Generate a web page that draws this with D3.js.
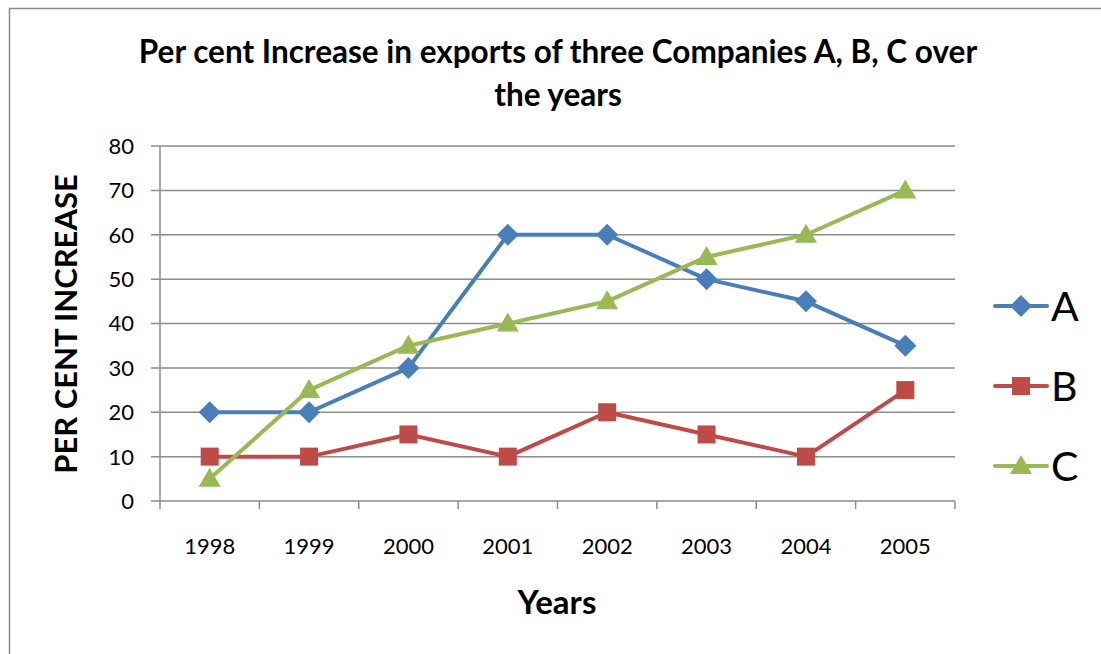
<!DOCTYPE html>
<html lang="en">
    <head>
        <meta charset="utf-8">
        <title>Per cent Increase in exports</title>
        <script src="https://d3js.org/d3.v7.min.js"></script>
        <style type="text/css">
            body { margin: 0; background: #fff; }
            text { font-family: Lato, "Open Sans", sans-serif; fill: #000; }
        </style>
    </head>
    <body>
        <script>
            // data
            var years = ["1998", "1999", "2000", "2001", "2002", "2003", "2004", "2005"];
            var seriesA = [20, 20, 30, 60, 60, 50, 45, 35];
            var seriesB = [10, 10, 15, 10, 20, 15, 10, 25];
            var seriesC = [5, 25, 35, 40, 45, 55, 60, 70];
            var seriesNames = ["A", "B", "C"];
            var yTicks = [0, 10, 20, 30, 40, 50, 60, 70, 80];

            var series = [
                { name: "A", values: seriesA, color: "#4a7ebb", symbol: "diamond" },
                { name: "B", values: seriesB, color: "#be4b48", symbol: "square" },
                { name: "C", values: seriesC, color: "#98b954", symbol: "triangle" }
            ];

            // configuration code
            var outerWidth = 1101;
            var outerHeight = 654;
            var plot = { left: 160, right: 955, top: 146, bottom: 501 };

            var svg = d3.select("body")
                        .append("svg")
                        .attr("width", outerWidth)
                        .attr("height", outerHeight);

            // chart border
            svg.append("rect")
                .attr("x", 9.5).attr("y", 8.5)
                .attr("width", 1120).attr("height", 700)
                .attr("fill", "none")
                .attr("stroke", "#8a8a8a")
                .attr("stroke-width", 1.5);

            var xScale = d3.scaleBand().domain(years).range([plot.left, plot.right]).padding(0);
            var yScale = d3.scaleLinear().domain([0, 80]).range([plot.bottom, plot.top]);

            // gridlines
            svg.append("g").selectAll("line").data(yTicks).enter().append("line")
                .attr("x1", plot.left - 9).attr("x2", plot.right)
                .attr("y1", function (d) { return yScale(d); })
                .attr("y2", function (d) { return yScale(d); })
                .attr("stroke", "#8c8c8c")
                .attr("stroke-width", 1.5);

            // y axis line
            svg.append("line")
                .attr("x1", plot.left).attr("x2", plot.left)
                .attr("y1", plot.top).attr("y2", plot.bottom)
                .attr("stroke", "#8c8c8c").attr("stroke-width", 1.5);

            // x axis ticks at band boundaries
            var boundaries = years.map(function (d) { return xScale(d); }).concat([plot.right]);
            svg.append("g").selectAll("line").data(boundaries).enter().append("line")
                .attr("x1", function (d) { return d; }).attr("x2", function (d) { return d; })
                .attr("y1", plot.bottom).attr("y2", plot.bottom + 8)
                .attr("stroke", "#8c8c8c").attr("stroke-width", 1.5);

            // y tick labels
            svg.append("g").selectAll("text").data(yTicks).enter().append("text")
                .attr("x", 134)
                .attr("y", function (d) { return yScale(d); })
                .attr("dy", "0.36em")
                .attr("text-anchor", "end")
                .style("font-size", "22px")
                .text(function (d) { return d; });

            // x tick labels
            svg.append("g").selectAll("text").data(years).enter().append("text")
                .attr("x", function (d) { return xScale(d) + xScale.bandwidth() / 2; })
                .attr("y", 554)
                .attr("text-anchor", "middle")
                .style("font-size", "22px")
                .text(function (d) { return d; });

            // titles
            var title = svg.append("text")
                .attr("text-anchor", "middle")
                .style("font-size", "31.5px").style("font-weight", "bold");
            title.append("tspan").attr("x", 558).attr("y", 63)
                .text("Per cent Increase in exports of three Companies A, B, C over");
            title.append("tspan").attr("x", 558).attr("y", 106).text("the years");

            svg.append("text")
                .attr("transform", "translate(77,324) rotate(-90)")
                .attr("text-anchor", "middle")
                .style("font-size", "31px").style("font-weight", "bold")
                .text("PER CENT INCREASE");

            svg.append("text")
                .attr("x", 557).attr("y", 614)
                .attr("text-anchor", "middle")
                .style("font-size", "33px").style("font-weight", "bold")
                .text("Years");

            function symbolPath(type) {
                if (type === "diamond") return "M0,-11L11,0L0,11L-11,0Z";
                if (type === "square") return "M-9,-9H9V9H-9Z";
                return "M0,-11L11,8H-11Z";
            }

            var line = d3.line()
                .x(function (d, i) { return xScale(years[i]) + xScale.bandwidth() / 2; })
                .y(function (d) { return yScale(d); });

            series.forEach(function (s) {
                var g = svg.append("g");
                g.append("path")
                    .attr("d", line(s.values))
                    .attr("fill", "none")
                    .attr("stroke", s.color)
                    .attr("stroke-width", 4)
                    .attr("stroke-linejoin", "round");
                g.selectAll("path.m").data(s.values).enter().append("path")
                    .attr("class", "m")
                    .attr("transform", function (d, i) {
                        return "translate(" + (xScale(years[i]) + xScale.bandwidth() / 2) + "," + yScale(d) + ")";
                    })
                    .attr("d", symbolPath(s.symbol))
                    .attr("fill", s.color);
            });

            // legend
            var legendY = d3.scalePoint().domain(seriesNames).range([306, 466]);
            series.forEach(function (s) {
                var y = legendY(s.name);
                var g = svg.append("g");
                g.append("line")
                    .attr("x1", 995).attr("x2", 1047)
                    .attr("y1", y).attr("y2", y)
                    .attr("stroke", s.color).attr("stroke-width", 4)
                    .attr("stroke-linecap", "round");
                g.append("path")
                    .attr("transform", "translate(1021," + y + ")")
                    .attr("d", symbolPath(s.symbol))
                    .attr("fill", s.color);
                g.append("text")
                    .attr("x", 1051).attr("y", y + 15)
                    .style("font-size", "41px")
                    .text(s.name);
            });
        </script>
    </body>
</html>
